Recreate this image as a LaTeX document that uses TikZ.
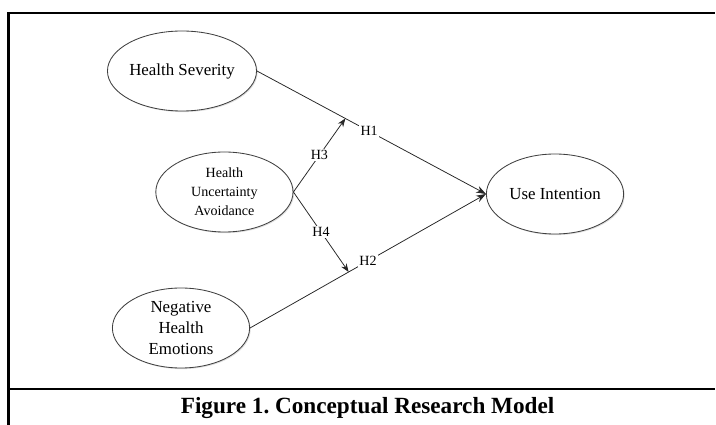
\documentclass[tikz,border=0pt]{standalone}
\usepackage{fontspec}
\setmainfont{Liberation Serif}
\usetikzlibrary{arrows.meta,shadows,shapes.geometric}

\tikzset{
  construct/.style={ellipse, draw=black!75, line width=0.6pt, fill=white,
    minimum width=3.43cm, minimum height=2cm, inner sep=0pt, align=center,
    drop shadow={opacity=0.25, shadow xshift=0.8pt, shadow yshift=-0.8pt}},
  hpath/.style={draw=black!85, line width=0.55pt, -{Stealth[length=7pt,width=5pt]}},
  hyp/.style={fill=white, inner sep=1pt, font=\fontsize{10}{12}\selectfont}
}

\begin{document}
\frenchspacing
\begin{tikzpicture}
  \useasboundingbox (0,0) rectangle (17.9,10.625);
  % frame
  \draw[line width=1.5pt] (0.2125,0) -- (0.2125,10.3) -- (17.875,10.3);
  \draw[line width=1.5pt] (0.2125,0.9) -- (17.875,0.9);

  \node[construct, font=\fontsize{12}{15}\selectfont] (hs) at (4.55, 8.85) {Health Severity};
  \node[construct, font=\fontsize{10}{13.5}\selectfont] (hua) at (5.61, 5.825) {Health\\Uncertainty\\Avoidance};
  \node[construct, font=\fontsize{12}{15}\selectfont] (nhe) at (4.525, 2.425) {Negative\\Health\\Emotions};
  \node[construct, font=\fontsize{12}{15}\selectfont] (ui) at (13.875, 5.775) {Use Intention};

  \draw[hpath] (hs.east) -- coordinate[pos=0.386] (m1) node[hyp, pos=0.49] {H1} (ui.west);
  \draw[hpath] (nhe.east) -- coordinate[pos=0.418] (m2) node[hyp, pos=0.5] {H2} (ui.west);
  \draw[hpath, -{Stealth[length=6pt,width=4.5pt]}] (hua.east) -- node[hyp] {H3} (m1);
  \draw[hpath, -{Stealth[length=6pt,width=4.5pt]}] (hua.east) -- node[hyp] {H4} (m2);

  \node[font=\bfseries\fontsize{16.5}{20}\selectfont] (cap) at (9.19, 0.425) {Figure 1. Conceptual Research Model};
\end{tikzpicture}
\end{document}
